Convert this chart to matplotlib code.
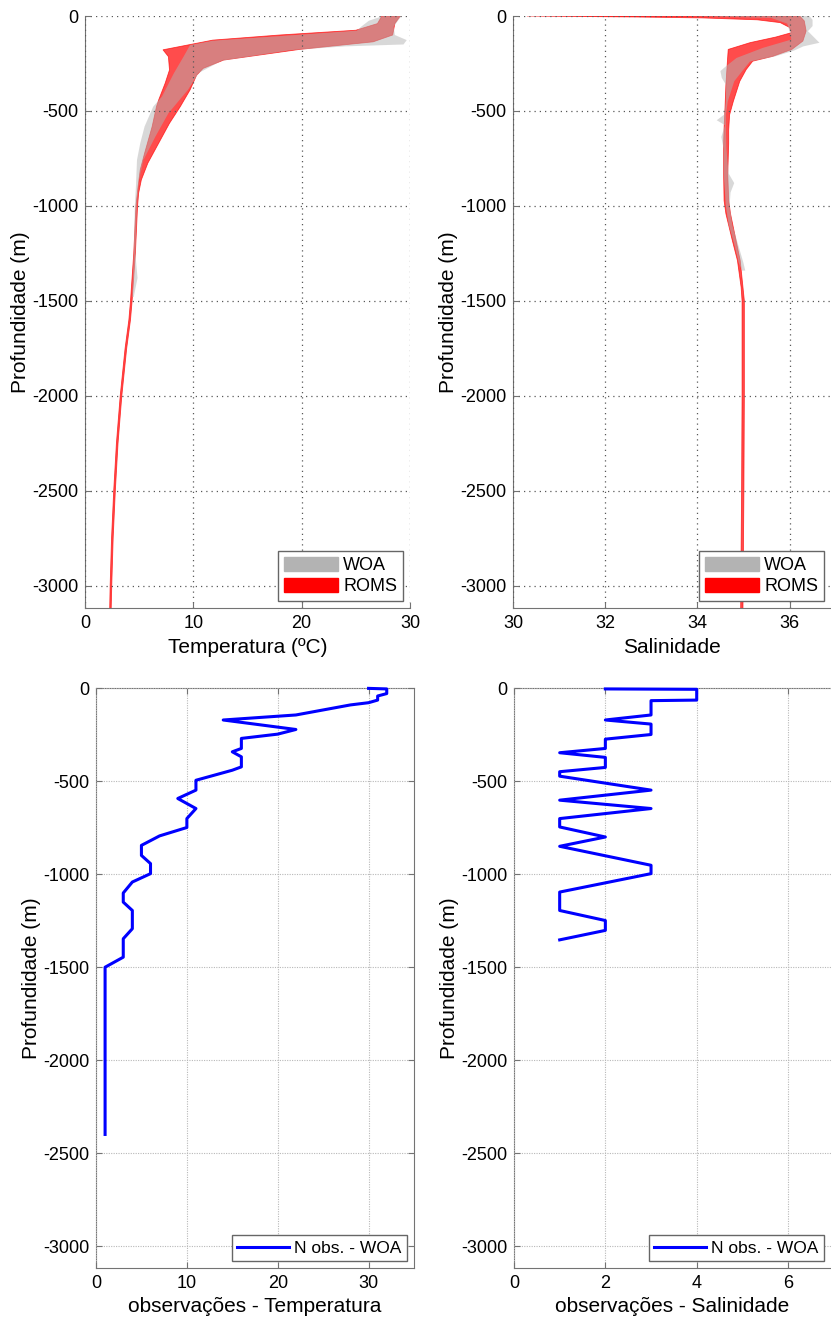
import numpy as np
import matplotlib
matplotlib.use("Agg")
import matplotlib.pyplot as plt
from matplotlib.patches import Patch
from matplotlib.lines import Line2D

plt.rcParams.update({"font.family": "Liberation Sans", "font.size": 13,
                     "axes.unicode_minus": False})

# ---- temperature envelopes (depth m, positive down) ----
roms_t_lo_z = np.array([0, 40, 75, 100, 127, 147, 178, 214, 284, 354, 442, 477, 582,
                        723, 810, 898, 1003, 1250, 1500, 1600, 1750, 2000, 2250,
                        2500, 2750, 3000, 3120])
roms_t_lo = np.array([27.4, 27.0, 25.0, 18.0, 11.8, 10.0, 7.2, 7.7, 7.8, 7.4, 6.8, 6.6,
                      6.2, 5.5, 5.1, 4.9, 4.7, 4.5, 4.2, 4.05, 3.7, 3.25, 2.9, 2.65,
                      2.45, 2.32, 2.28])
roms_t_hi_z = np.array([0, 40, 100, 136, 176, 232, 276, 312, 389, 477, 565, 670, 775,
                        863, 933, 1003, 1250, 1500, 1600, 1750, 2000, 2250, 2500,
                        2750, 3000, 3120])
roms_t_hi = np.array([29.1, 28.6, 28.4, 26.6, 19.8, 12.8, 10.9, 10.3, 9.7, 8.8, 7.8,
                      6.8, 5.8, 5.2, 4.95, 4.85, 4.65, 4.35, 4.2, 3.85, 3.4, 3.05,
                      2.8, 2.6, 2.47, 2.42])
woa_t_lo_z = np.array([0, 25, 56, 77, 106, 130, 153, 214, 302, 425, 477, 582, 670,
                       758, 898, 1000, 1250, 1480])
woa_t_lo = np.array([27.5, 26.2, 25.5, 25.1, 18.0, 11.8, 9.7, 9.1, 8.2, 7.1, 6.3, 5.5,
                     5.1, 4.8, 4.7, 4.6, 4.5, 4.35])
woa_t_hi_z = np.array([0, 56, 100, 127, 150, 160, 180, 236, 300, 389, 512, 635, 758,
                       863, 1000, 1250, 1380, 1480])
woa_t_hi = np.array([29.2, 28.5, 28.6, 29.7, 29.4, 24.0, 19.0, 12.6, 10.5, 9.5, 7.7,
                     6.5, 5.4, 5.0, 4.8, 4.65, 4.85, 4.5])

# ---- salinity envelopes ----
roms_s_lo_z = np.array([0, 5, 10, 20, 35, 60, 88, 111, 140, 176, 247, 362, 485, 591,
                        672, 830, 972, 1042, 1183, 1288, 1429, 1500, 2000, 2500,
                        2800, 3120])
roms_s_lo = np.array([30.3, 32.6, 34.1, 35.3, 35.8, 36.0, 36.04, 35.7, 35.15, 34.67,
                      34.65, 34.62, 34.6, 34.58, 34.57, 34.57, 34.58, 34.62, 34.76,
                      34.87, 34.95, 34.97, 34.97, 34.96, 34.95, 34.94])
roms_s_hi_z = np.array([0, 26, 79, 132, 176, 212, 238, 282, 344, 450, 520, 600, 672,
                        830, 972, 1042, 1183, 1288, 1429, 1500, 2000, 2500, 2800, 3120])
roms_s_hi = np.array([36.22, 36.32, 36.36, 36.29, 36.05, 35.64, 35.2, 35.06, 34.92,
                      34.78, 34.7, 34.68, 34.68, 34.66, 34.68, 34.72, 34.84, 34.93,
                      34.99, 35.02, 35.02, 35.01, 35.0, 34.99])
woa_s_lo_z = np.array([0, 10, 40, 80, 124, 168, 221, 265, 290, 326, 362, 450, 520,
                       549, 575, 637, 700, 830, 930, 1000, 1100, 1200, 1300, 1341])
woa_s_lo = np.array([33.8, 35.6, 35.95, 36.0, 36.04, 35.42, 34.85, 34.62, 34.5, 34.53,
                     34.62, 34.62, 34.58, 34.42, 34.6, 34.52, 34.57, 34.57, 34.6,
                     34.62, 34.68, 34.8, 34.9, 34.97])
woa_s_hi_z = np.array([0, 20, 53, 80, 141, 160, 182, 212, 240, 282, 344, 450, 520,
                       600, 700, 830, 880, 930, 1000, 1100, 1200, 1300, 1341])
woa_s_hi = np.array([36.43, 36.5, 36.5, 36.4, 36.65, 36.3, 36.1, 35.7, 35.14, 35.0,
                     34.8, 34.66, 34.62, 34.62, 34.63, 34.68, 34.8, 34.72, 34.7,
                     34.76, 34.88, 35.0, 35.04])

# ---- number of WOA observations ----
nobs_t_z = np.array([2, 5, 30, 43, 65, 79, 91, 145, 172, 223, 248, 271, 325, 343, 370,
                     424, 442, 496, 549, 594, 648, 702, 750, 795, 846, 900, 944, 998,
                     1043, 1102, 1151, 1196, 1294, 1348, 1447, 1501, 2400])
nobs_t = np.array([30, 32, 32, 31, 31, 30, 28, 22, 14, 22, 20, 16, 16, 15, 16, 16, 15,
                   11, 11, 9, 11, 10, 10, 7, 5, 5, 6, 6, 4, 3, 3, 4, 4, 3, 3, 1, 1])
nobs_s_z = np.array([5, 7, 65, 68, 145, 172, 194, 250, 275, 325, 348, 373, 427, 450,
                     474, 549, 603, 648, 702, 747, 801, 851, 953, 998, 1097, 1196, 1250,
                     1303, 1354])
nobs_s = np.array([2, 4, 4, 3, 3, 2, 3, 3, 2, 2, 1, 2, 2, 1, 1, 3, 1, 3, 1, 1, 2, 1,
                   3, 3, 1, 1, 2, 2, 1])

yticks = np.arange(-3000, 1, 500)
ybot = -3118
W, H = 831, 1322


def rect(l, t, r, b):
    return [l / W, 1 - b / H, (r - l) / W, (b - t) / H]


def band(ax, xlo, zlo, xhi, zhi, **kw):
    ax.fill(np.r_[xlo, xhi[::-1]], -np.r_[zlo, zhi[::-1]], **kw)


def style(ax, box):
    ax.set_yticks(yticks)
    ax.set_ylim(ybot, 0)
    for s in ax.spines.values():
        s.set_color("0.45")
    if box:
        ax.grid(True, ls=(0, (1, 1.2)), color="0.72", lw=0.8)
        ax.tick_params(direction="in", top=True, right=True, length=4,
                       color="0.45", labelsize=13, pad=5)
    else:
        ax.spines["top"].set_visible(False)
        ax.spines["right"].set_visible(False)
        ax.grid(True, ls=(0, (1, 3.2)), color="0.35", lw=0.9)
        ax.tick_params(direction="in", length=4, color="0.45", labelsize=13, pad=5)
    ax.set_axisbelow(False)


fig = plt.figure(figsize=(W / 100, H / 100), dpi=100)

woa_patch = Patch(facecolor="0.7", edgecolor="0.7", label="WOA")
roms_patch = Patch(facecolor="red", edgecolor="red", label="ROMS")
leg_kw = dict(loc="lower right", fontsize=13, fancybox=False, edgecolor="0.4",
              framealpha=1, handlelength=3.0, handleheight=0.85, labelspacing=0.2,
              borderpad=0.3, handletextpad=0.3, borderaxespad=0.4)

# temperature
ax1 = fig.add_axes(rect(85, 16, 410, 608))
band(ax1, roms_t_lo, roms_t_lo_z, roms_t_hi, roms_t_hi_z, fc="red", ec="red",
     alpha=0.7, lw=0.6)
band(ax1, woa_t_lo, woa_t_lo_z, woa_t_hi, woa_t_hi_z, fc="0.7", lw=0, alpha=0.5)
ax1.set_xlim(0, 30)
ax1.set_xticks([0, 10, 20, 30])
style(ax1, False)
ax1.set_xlabel("Temperatura (ºC)", fontsize=15, labelpad=4)
ax1.set_ylabel("Profundidade (m)", fontsize=15, labelpad=1)
ax1.legend(handles=[woa_patch, roms_patch], **leg_kw)

# salinity
ax2 = fig.add_axes(rect(513, 16, 831, 608))
band(ax2, roms_s_lo, roms_s_lo_z, roms_s_hi, roms_s_hi_z, fc="red", ec="red",
     alpha=0.7, lw=0.6)
band(ax2, woa_s_lo, woa_s_lo_z, woa_s_hi, woa_s_hi_z, fc="0.7", lw=0, alpha=0.5)
ax2.set_xlim(30, 36.9)
ax2.set_xticks([30, 32, 34, 36])
style(ax2, False)
ax2.set_xlabel("Salinidade", fontsize=15, labelpad=4)
ax2.set_ylabel("Profundidade (m)", fontsize=15, labelpad=1)
ax2.legend(handles=[woa_patch, roms_patch], **leg_kw)

# observations
obs_line = Line2D([], [], color="blue", lw=2.2, label="N obs. - WOA")
leg2_kw = dict(loc="lower right", fontsize=12.5, fancybox=False, edgecolor="0.4",
               framealpha=1, handlelength=3.0, borderpad=0.3, handletextpad=0.3,
               borderaxespad=0.4)

ax3 = fig.add_axes(rect(96, 688, 414, 1268))
ax3.plot(nobs_t, -nobs_t_z, color="blue", lw=2.2, clip_on=False, zorder=3)
ax3.set_xlim(0, 35)
ax3.set_xticks([0, 10, 20, 30])
style(ax3, True)
ax3.set_xlabel("observações - Temperatura", fontsize=15, labelpad=4)
ax3.set_ylabel("Profundidade (m)", fontsize=15, labelpad=1)
ax3.legend(handles=[obs_line], **leg2_kw)

ax4 = fig.add_axes(rect(514, 688, 831, 1268))
ax4.plot(nobs_s, -nobs_s_z, color="blue", lw=2.2, clip_on=False, zorder=3)
ax4.set_xlim(0, 6.94)
ax4.set_xticks([0, 2, 4, 6])
style(ax4, True)
ax4.spines["right"].set_visible(False)
ax4.tick_params(right=False)
ax4.set_xlabel("observações - Salinidade", fontsize=15, labelpad=4)
ax4.set_ylabel("Profundidade (m)", fontsize=15, labelpad=1)
ax4.legend(handles=[obs_line], **leg2_kw)

fig.savefig("out.png", dpi=100, facecolor="white")
